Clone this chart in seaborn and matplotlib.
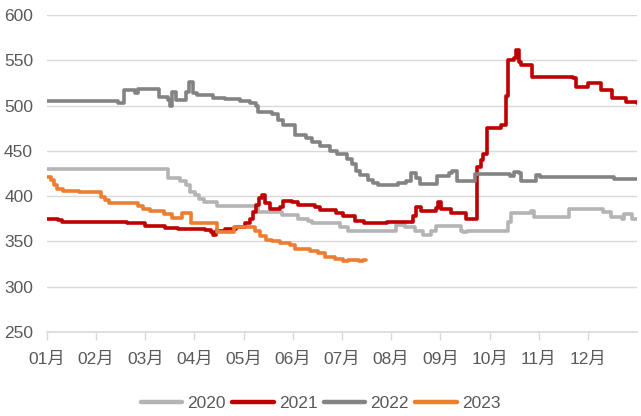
import matplotlib
matplotlib.use("Agg")
import matplotlib.pyplot as plt
import seaborn as sns
import pandas as pd
from matplotlib.lines import Line2D

# ---- data (x = position in months from Jan 1, y = value) ----
years = ["2020", "2021", "2022", "2023"]
month_labels = ["01月", "02月", "03月", "04月", "05月", "06月",
                "07月", "08月", "09月", "10月", "11月", "12月"]

x_2020 = [0.00, 2.46, 2.70, 2.83, 2.91, 3.01, 3.09, 3.19, 3.46, 4.29, 4.78, 5.10, 5.30,
          5.39, 5.96, 6.12, 7.09, 7.28, 7.48, 7.64, 7.80, 7.91, 8.43, 8.46, 8.54, 9.37,
          9.43, 9.84, 9.90, 10.61, 11.30, 11.48, 11.69, 11.73, 11.89, 12.00]
y_2020 = [430, 420, 417, 412, 405, 401, 397, 394, 389, 383, 379, 375, 373,
          370, 366, 362, 368, 366, 362, 357, 362, 367, 362, 360, 362, 371,
          381, 384, 377, 386, 382, 377, 375, 380, 375, 375]

x_2021 = [0.00, 0.22, 0.30, 1.63, 1.99, 2.40, 2.66, 3.21, 3.33, 3.37, 3.43, 3.62, 3.84,
          4.02, 4.13, 4.19, 4.25, 4.31, 4.37, 4.43, 4.53, 4.74, 4.80, 4.98, 5.10, 5.45,
          5.55, 5.87, 6.02, 6.26, 6.44, 6.91, 7.44, 7.50, 7.60, 7.91, 7.95, 8.01, 8.21,
          8.52, 8.74, 8.82, 8.86, 8.94, 9.23, 9.33, 9.37, 9.49, 9.53, 9.59, 9.65, 9.86,
          10.69, 10.75, 11.00, 11.26, 11.50, 11.77, 12.00]
y_2021 = [375, 374, 371, 370, 367, 365, 364, 363, 360, 357, 362, 364, 366,
          370, 375, 382, 390, 398, 401, 392, 386, 388, 395, 393, 390, 388,
          385, 381, 378, 373, 370, 371, 378, 388, 384, 387, 393, 386, 381,
          375, 432, 440, 446, 475, 478, 510, 550, 552, 561, 548, 545, 531,
          530, 521, 525, 517, 508, 504, 503]

x_2022 = [0.00, 1.44, 1.57, 1.79, 1.85, 2.28, 2.46, 2.50, 2.54, 2.62, 2.83, 2.89, 2.97,
          3.05, 3.37, 3.62, 3.92, 4.13, 4.25, 4.29, 4.57, 4.69, 4.80, 5.04, 5.26, 5.39,
          5.55, 5.75, 5.89, 6.10, 6.20, 6.28, 6.36, 6.52, 6.63, 6.73, 7.13, 7.30, 7.40,
          7.50, 7.58, 7.94, 8.17, 8.23, 8.33, 8.70, 9.41, 9.49, 9.59, 9.65, 9.94, 10.02,
          11.54, 12.00]
y_2022 = [505, 503, 517, 514, 518, 509, 506, 500, 515, 506, 515, 526, 514,
          512, 508, 507, 505, 503, 499, 493, 491, 484, 478, 467, 464, 460,
          455, 450, 446, 441, 436, 428, 423, 418, 414, 412, 415, 417, 425,
          420, 413, 422, 425, 428, 417, 424, 422, 427, 425, 417, 423, 421,
          419, 419]

x_2023 = [0.00, 0.08, 0.14, 0.20, 0.33, 0.65, 1.10, 1.18, 1.26, 1.85, 1.95, 2.09, 2.38,
          2.54, 2.74, 2.93, 3.46, 3.80, 4.23, 4.33, 4.45, 4.57, 4.74, 4.94, 5.04, 5.35,
          5.51, 5.65, 5.85, 6.02, 6.12, 6.34, 6.42, 6.48]
y_2023 = [421, 418, 412, 408, 406, 404, 399, 396, 392, 389, 386, 384, 380,
          376, 381, 370, 360, 366, 362, 356, 352, 350, 348, 346, 342, 339,
          337, 333, 331, 328, 330, 328, 329, 329]

colors = ["#b4b4b4", "#c00000", "#838383", "#ed7d31"]

frames = []
for yr, xs, ys in [("2020", x_2020, y_2020), ("2021", x_2021, y_2021),
                   ("2022", x_2022, y_2022), ("2023", x_2023, y_2023)]:
    frames.append(pd.DataFrame({"month": xs, "value": ys, "year": yr}))
df = pd.concat(frames, ignore_index=True)

sns.set_theme(style="white")
plt.rcParams["font.family"] = ["Liberation Sans", "Noto Sans CJK SC", "DejaVu Sans"]

fig = plt.figure(figsize=(6.41, 4.16), dpi=100)
ax = fig.add_axes([0.0733, 0.202, 0.9205, 0.762])

sns.lineplot(data=df, x="month", y="value", hue="year", hue_order=years,
             palette=colors, drawstyle="steps-post", linewidth=2.6,
             estimator=None, ax=ax, legend=False)

ax.set_xlim(0, 12)
ax.set_ylim(250, 600)
ax.set_yticks(range(250, 601, 50))
ax.set_xticks(range(12))
ax.set_xticklabels(month_labels)
ax.set_xlabel("")
ax.set_ylabel("")

ax.grid(axis="y", color="#d9d9d9", linewidth=1.0)
ax.grid(axis="x", visible=False)
for s in ["left", "right", "top"]:
    ax.spines[s].set_visible(False)
ax.spines["bottom"].set_color("#d9d9d9")
ax.spines["bottom"].set_linewidth(1.2)

ax.tick_params(axis="x", colors="#d9d9d9", length=6, width=1.0, pad=8,
               labelcolor="#595959", labelsize=12.5, direction="out", bottom=True)
ax.tick_params(axis="y", length=0, pad=10, labelcolor="#595959", labelsize=12.5)

handles = [Line2D([0], [0], color=c, linewidth=3.2, solid_capstyle="round") for c in colors]
fig.legend(handles, years, loc="lower center", bbox_to_anchor=(0.5, -0.025),
           ncol=4, frameon=False, fontsize=12.5, handlelength=2.4,
           handletextpad=0.3, columnspacing=0.35, labelcolor="#595959")

fig.savefig("out.png", dpi=100)
